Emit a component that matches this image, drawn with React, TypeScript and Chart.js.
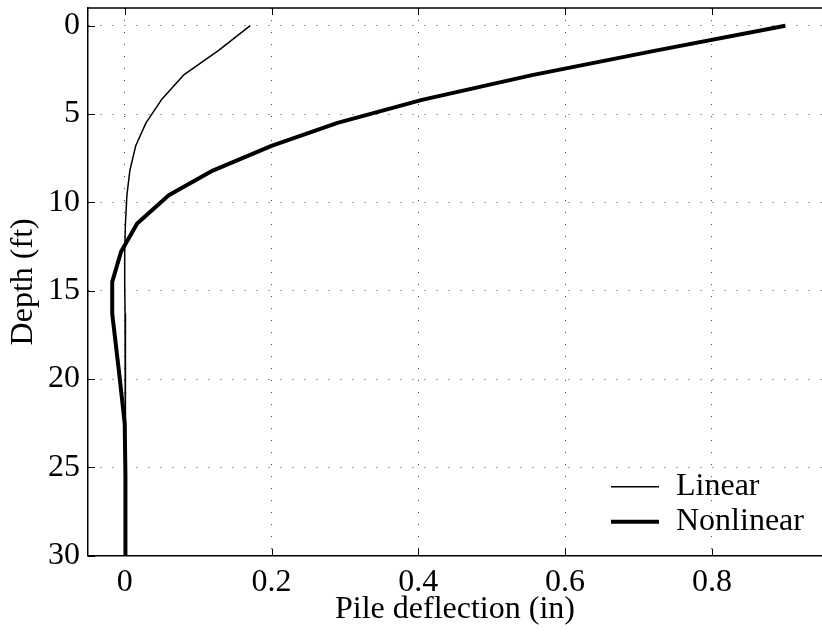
import React, { useEffect, useRef } from "react";
import { Chart, registerables } from "chart.js";

Chart.register(...registerables);

// Depth below pile head (ft)
const depthFt = [0, 1.4, 2.8, 4.2, 5.5, 6.8, 8.2, 9.6, 11.2, 12.8, 14.5, 16.3, 19.5, 22.5, 25.5, 30];
// Pile deflection (in), linear soil model
const linearIn = [0.171, 0.128, 0.08, 0.05, 0.029, 0.015, 0.007, 0.003, 0.001, 0.0, 0.0, 0.0005, 0.001, 0.001, 0.001, 0.001];
// Pile deflection (in), nonlinear soil model
const nonlinearIn = [0.9, 0.725, 0.555, 0.405, 0.29, 0.2, 0.12, 0.06, 0.017, -0.005, -0.017, -0.017, -0.008, 0.0, 0.001, 0.001];

const xTicks = [0, 0.2, 0.4, 0.6, 0.8];
const yTicks = [0, 5, 10, 15, 20, 25, 30];
const seriesNames = ["Linear", "Nonlinear"];
const seriesWidths = [1.5, 4];

const FONT = "'Liberation Serif', 'Times New Roman', serif";

const framePlugin = {
  id: "frame",
  afterDraw(chart: any) {
    const { ctx, chartArea: a, scales } = chart;
    ctx.save();
    ctx.strokeStyle = "#000";
    ctx.lineWidth = 1.5;
    ctx.beginPath();
    ctx.moveTo(a.left, a.top);
    ctx.lineTo(a.right, a.top);
    ctx.stroke();
    const tl = 7;
    ctx.lineWidth = 1;
    ctx.beginPath();
    for (const t of scales.x.ticks) {
      const px = Math.round(scales.x.getPixelForValue(t.value)) + 0.5;
      ctx.moveTo(px, a.bottom);
      ctx.lineTo(px, a.bottom - tl);
      ctx.moveTo(px, a.top);
      ctx.lineTo(px, a.top + tl);
    }
    for (const t of scales.y.ticks) {
      const py = Math.round(scales.y.getPixelForValue(t.value)) + 0.5;
      ctx.moveTo(a.left, py);
      ctx.lineTo(a.left + tl, py);
    }
    ctx.stroke();

    // legend (no box)
    const x0 = a.left + 523;
    const x1 = x0 + 48;
    const tx = x0 + 65;
    const y0 = a.bottom - 69;
    ctx.font = `32px ${FONT}`;
    ctx.fillStyle = "#000";
    ctx.textAlign = "left";
    ctx.textBaseline = "middle";
    seriesNames.forEach((name, i) => {
      const y = y0 + i * 35;
      ctx.lineWidth = seriesWidths[i];
      ctx.beginPath();
      ctx.moveTo(x0, y);
      ctx.lineTo(x1, y);
      ctx.stroke();
      ctx.fillText(name, tx, y);
    });
    ctx.restore();
  },
};

export default function App() {
  const ref = useRef<HTMLCanvasElement | null>(null);

  useEffect(() => {
    if (!ref.current) return;
    const toPts = (vals: number[]) => vals.map((v, i) => ({ x: v, y: depthFt[i] }));
    const chart = new Chart(ref.current, {
      type: "scatter",
      data: {
        datasets: [
          {
            label: seriesNames[0],
            data: toPts(linearIn),
            showLine: true,
            borderColor: "#000",
            backgroundColor: "#000",
            borderWidth: seriesWidths[0],
            pointRadius: 0,
            borderJoinStyle: "round",
          },
          {
            label: seriesNames[1],
            data: toPts(nonlinearIn),
            showLine: true,
            borderColor: "#000",
            backgroundColor: "#000",
            borderWidth: seriesWidths[1],
            pointRadius: 0,
            borderJoinStyle: "round",
          },
        ],
      },
      options: {
        animation: false,
        responsive: false,
        devicePixelRatio: 1,
        layout: { padding: { left: 0, top: 8, right: -10, bottom: 0 } },
        plugins: {
          legend: { display: false },
          tooltip: { enabled: false },
        },
        scales: {
          x: {
            type: "linear",
            min: -0.05,
            max: 0.95,
            afterBuildTicks: (s: any) => {
              s.ticks = xTicks.map((v) => ({ value: v }));
            },
            afterFit: (s: any) => {
              s.height = 83.3;
              s.paddingLeft = 0;
              s.paddingRight = 0;
              s.paddingTop = 0;
              s.paddingBottom = 0;
            },
            ticks: {
              padding: 8,
              color: "#000",
              font: { family: FONT, size: 32 },
              callback: (v: any) => String(v),
              maxRotation: 0,
            },
            grid: { color: "#444", lineWidth: 1, drawTicks: false },
            border: { display: true, color: "#000", width: 1.5, dash: [1, 11] },
            title: {
              display: true,
              text: "Pile deflection (in)",
              color: "#000",
              font: { family: FONT, size: 32 },
              padding: { top: 0, bottom: 10 },
            },
          },
          y: {
            type: "linear",
            min: -1,
            max: 30,
            reverse: true,
            afterBuildTicks: (s: any) => {
              s.ticks = yTicks.map((v) => ({ value: v }));
            },
            afterFit: (s: any) => {
              s.width = 88;
              s.paddingLeft = 0;
              s.paddingRight = 0;
              s.paddingTop = 0;
              s.paddingBottom = 0;
            },
            ticks: {
              padding: 8,
              color: "#000",
              font: { family: FONT, size: 32 },
              callback: (v: any) => String(v),
            },
            grid: { color: "#444", lineWidth: 1, drawTicks: false },
            border: { display: true, color: "#000", width: 1.5, dash: [1, 11] },
            title: {
              display: true,
              text: "Depth (ft)",
              color: "#000",
              font: { family: FONT, size: 32 },
              padding: { top: 4, bottom: 0 },
            },
          },
        },
      },
      plugins: [framePlugin],
    });
    return () => chart.destroy();
  }, []);

  return (
    <div style={{ position: "fixed", left: 0, top: 0, width: 822, height: 639, background: "#fff" }}>
      <canvas ref={ref} width={822} height={639} style={{ display: "block" }} />
    </div>
  );
}
